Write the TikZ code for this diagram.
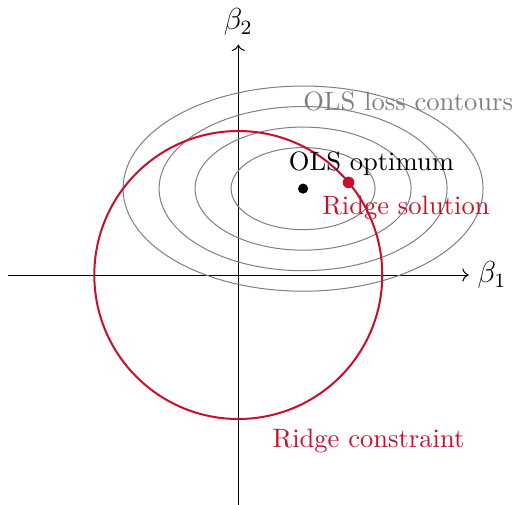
\documentclass[tikz,border=0pt]{standalone}
\usepackage{xcolor}
\usepackage{tikz}
\usetikzlibrary{positioning, arrows.meta, calc}
\definecolor{ridgered}{HTML}{C8102E}
\definecolor{contourgray}{HTML}{808080}

\begin{document}
\begin{tikzpicture}[
    axis/.style={->},
    contour/.style={draw=contourgray, thin},
    dot/.style={circle, fill, inner sep=0pt, minimum size=4pt},
    lbl/.style={font=\fontsize{10.5}{12.6}\selectfont},
  ]
    \useasboundingbox (-3.31,-3.19) rectangle (3.83,3.82);
    % axes
    \coordinate (o) at (0,0);
    \coordinate (xl) at (-3.2,0);
    \coordinate (xr) at (3.2,0);
    \coordinate (yb) at (0,-3.2);
    \coordinate (yt) at (0,3.2);
    \draw[axis] (xl) -- (xr);
    \draw[axis] (yb) -- (yt);
    \node[right] (b1) at (xr) {\large $\beta_1$};
    \node[above] (b2) at (yt) {\large $\beta_2$};
    % OLS loss contours
    \coordinate (opt) at (0.9,1.2);
    \foreach \r in {1,1.5,2,2.5}
      \draw[contour] (opt) ellipse [x radius=\r, y radius=0.57*\r];
    % ridge constraint
    \draw[ridgered, thick] (o) circle (2);
    \node[dot] (olsdot) at (opt) {};
    \node[dot, fill=ridgered, minimum size=4.6pt] (ridgedot) at (40:2) {};
    % labels
    \node[lbl] (olslbl) at (1.85,1.55) {OLS optimum};
    \node[lbl, text=ridgered] (ridgelbl) at (2.33,0.93) {Ridge solution};
    \node[lbl, text=contourgray] (contlbl) at (2.36,2.41) {OLS loss contours};
    \node[lbl, text=ridgered] (conslbl) at (1.81,-2.31) {Ridge constraint};
  \end{tikzpicture}
\end{document}
